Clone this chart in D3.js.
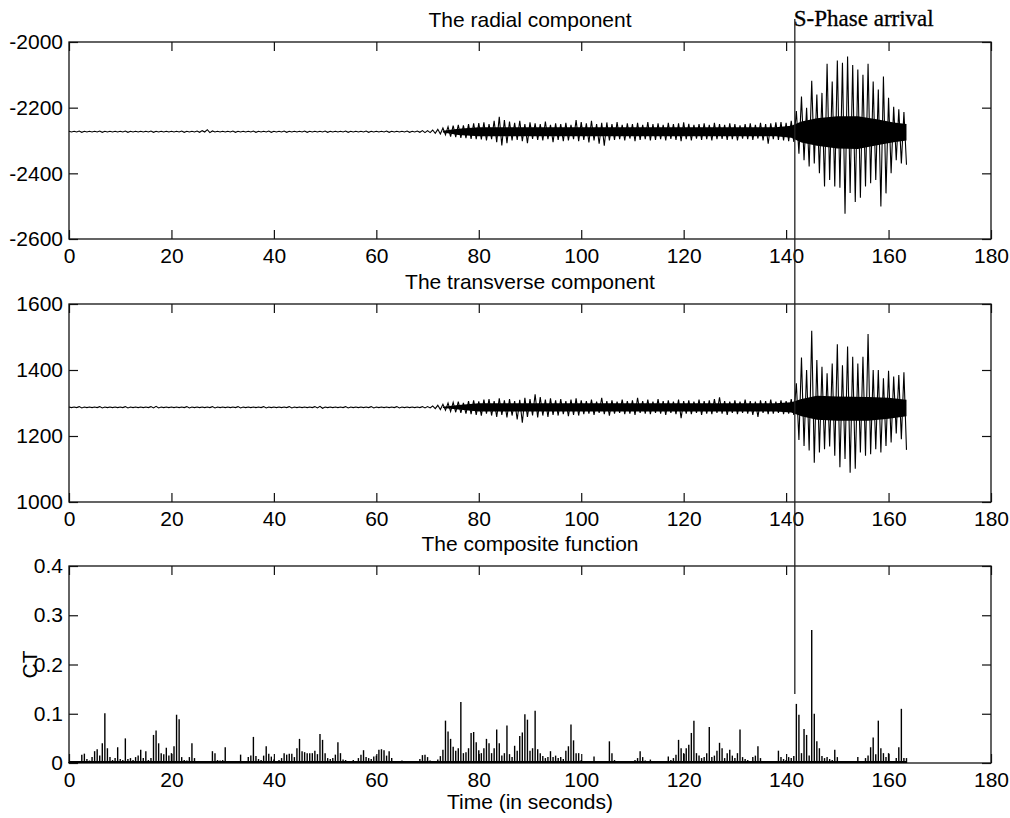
<!DOCTYPE html>
<html>
<head>
<meta charset="utf-8">
<script src="https://cdn.jsdelivr.net/npm/d3@7"></script>
<style>
  body { margin: 0; background: #fff; }
  svg { display: block; }
  .tick text { font-family: "Liberation Sans", Arial, sans-serif; font-size: 21px; fill: #000; }
</style>
</head>
<body>
<svg id="chart" width="1010" height="818"></svg>
<script>
// ---- Data -------------------------------------------------------------
// Time axis (seconds)
const xTicks = [0, 20, 40, 60, 80, 100, 120, 140, 160, 180];
const radialTicks = [-2600, -2400, -2200, -2000];
const transverseTicks = [1000, 1200, 1400, 1600];
const ctTicks = [0, 0.1, 0.2, 0.3, 0.4];

const panelTitles = ["The radial component", "The transverse component", "The composite function"];
const xLabel = "Time (in seconds)";
const ctLabel = "CT";
const arrivalLabel = "S-Phase arrival";
const arrivalTime = 141.7;     // s
const arrivalTopValue = -1930; // upper end, radial units
const arrivalCT = 0.14;        // lower end, CT units

// Radial component: per-second maximum / minimum (t = 0 … 163 s)
const radialHigh = [
  -2272,-2272,-2271,-2272,-2272,-2272,-2271,-2272,-2272,-2272,
  -2272,-2271,-2272,-2272,-2272,-2272,-2271,-2272,-2272,-2272,
  -2272,-2272,-2271,-2272,-2272,-2271,-2270,-2267,-2271,-2272,
  -2272,-2272,-2271,-2272,-2272,-2272,-2271,-2272,-2272,-2271,
  -2272,-2272,-2271,-2272,-2272,-2272,-2271,-2272,-2272,-2272,
  -2271,-2272,-2272,-2272,-2271,-2272,-2272,-2272,-2271,-2272,
  -2272,-2272,-2271,-2272,-2272,-2272,-2271,-2272,-2271,-2270,
  -2270,-2268,-2266,-2262,-2258,-2255,-2252,-2254,-2250,-2248,
  -2247,-2245,-2250,-2240,-2228,-2238,-2242,-2246,-2240,-2250,
  -2245,-2248,-2250,-2242,-2252,-2248,-2250,-2246,-2252,-2238,
  -2244,-2248,-2240,-2250,-2246,-2245,-2250,-2244,-2252,-2248,
  -2250,-2246,-2252,-2244,-2250,-2248,-2252,-2246,-2250,-2248,
  -2245,-2249,-2252,-2250,-2248,-2252,-2246,-2250,-2252,-2248,
  -2250,-2254,-2250,-2248,-2252,-2246,-2250,-2248,-2245,-2244,
  -2246,-2240,-2210,-2166,-2200,-2118,-2160,-2155,-2066,-2120,
  -2056,-2063,-2044,-2070,-2084,-2100,-2066,-2120,-2145,-2105,
  -2170,-2197,-2205,-2213
];
const radialLow = [
  -2274,-2274,-2275,-2274,-2274,-2274,-2275,-2274,-2274,-2274,
  -2274,-2275,-2274,-2274,-2274,-2274,-2275,-2274,-2274,-2274,
  -2274,-2274,-2275,-2274,-2274,-2275,-2274,-2276,-2274,-2274,
  -2274,-2274,-2275,-2274,-2274,-2274,-2275,-2274,-2274,-2275,
  -2274,-2274,-2275,-2274,-2274,-2274,-2275,-2274,-2274,-2274,
  -2275,-2274,-2274,-2274,-2275,-2274,-2274,-2274,-2275,-2274,
  -2274,-2274,-2275,-2274,-2274,-2274,-2275,-2274,-2275,-2276,
  -2276,-2278,-2280,-2283,-2288,-2290,-2292,-2293,-2295,-2296,
  -2297,-2300,-2296,-2305,-2315,-2308,-2300,-2298,-2302,-2308,
  -2295,-2298,-2300,-2296,-2305,-2298,-2302,-2300,-2296,-2302,
  -2298,-2306,-2300,-2310,-2316,-2300,-2298,-2296,-2300,-2294,
  -2302,-2298,-2296,-2300,-2298,-2296,-2300,-2295,-2298,-2302,
  -2296,-2300,-2294,-2298,-2296,-2300,-2296,-2295,-2298,-2296,
  -2300,-2294,-2296,-2298,-2294,-2300,-2310,-2296,-2298,-2300,
  -2302,-2304,-2340,-2360,-2379,-2370,-2400,-2440,-2420,-2440,
  -2444,-2523,-2460,-2487,-2474,-2440,-2430,-2420,-2501,-2461,
  -2400,-2360,-2370,-2374
];
// Radial: dense core of the oscillation [t, upper, lower]
const radialCore = [
  [73, -2270, -2276], [76, -2264, -2283], [80, -2260, -2287], [138, -2260, -2287],
  [141, -2255, -2292], [143, -2242, -2306], [146, -2232, -2316], [150, -2226, -2324],
  [154, -2226, -2326], [158, -2236, -2314], [161, -2245, -2305], [163.5, -2250, -2300]
];

// Transverse component: per-second maximum / minimum (t = 0 … 163 s)
const transverseHigh = [
  1288,1288,1289,1288,1288,1288,1289,1288,1288,1288,
  1288,1289,1288,1288,1288,1288,1289,1290,1288,1288,
  1288,1288,1288,1289,1288,1288,1288,1288,1289,1288,
  1288,1288,1288,1289,1288,1288,1288,1288,1289,1288,
  1288,1288,1288,1289,1288,1288,1288,1288,1289,1290,
  1288,1288,1288,1288,1289,1288,1288,1288,1288,1289,
  1288,1288,1288,1288,1289,1288,1288,1288,1288,1289,
  1289,1291,1293,1296,1300,1302,1304,1300,1306,1308,
  1305,1310,1312,1306,1314,1308,1312,1306,1310,1316,
  1312,1326,1318,1310,1314,1308,1312,1306,1310,1314,
  1308,1306,1310,1304,1316,1306,1308,1304,1310,1306,
  1308,1316,1306,1310,1304,1312,1306,1308,1304,1310,
  1306,1308,1304,1310,1306,1308,1312,1317,1306,1304,
  1308,1304,1310,1306,1304,1308,1306,1310,1304,1308,
  1306,1312,1360,1438,1400,1519,1430,1410,1390,1420,
  1478,1414,1471,1440,1420,1440,1509,1400,1400,1375,
  1398,1380,1385,1393
];
const transverseLow = [
  1286,1286,1285,1286,1286,1286,1285,1286,1286,1286,
  1286,1285,1286,1286,1286,1286,1285,1285,1286,1286,
  1286,1286,1286,1285,1286,1286,1286,1286,1285,1286,
  1286,1286,1286,1285,1286,1286,1286,1286,1285,1286,
  1286,1286,1286,1285,1286,1286,1286,1286,1285,1284,
  1286,1286,1286,1286,1285,1286,1286,1286,1286,1285,
  1286,1286,1286,1286,1285,1286,1286,1286,1286,1285,
  1285,1283,1280,1278,1274,1272,1270,1268,1266,1264,
  1262,1268,1262,1258,1264,1256,1262,1250,1240,1258,
  1262,1256,1262,1258,1264,1262,1266,1260,1264,1262,
  1266,1268,1264,1270,1266,1262,1268,1270,1266,1268,
  1264,1270,1268,1266,1270,1268,1264,1270,1266,1254,
  1268,1266,1270,1264,1268,1266,1270,1268,1264,1270,
  1266,1270,1268,1264,1258,1270,1266,1268,1270,1266,
  1268,1264,1188,1170,1156,1119,1150,1160,1168,1140,
  1105,1130,1089,1101,1150,1140,1145,1160,1150,1170,
  1180,1208,1190,1158
];
// Transverse: dense core of the oscillation [t, upper, lower]
const transverseCore = [
  [73, 1289, 1285], [76, 1294, 1280], [80, 1299, 1274], [138, 1299, 1274],
  [141, 1302, 1271], [143, 1312, 1260], [146, 1322, 1249], [150, 1320, 1246],
  [156, 1318, 1246], [160, 1316, 1252], [163.5, 1310, 1260]
];

// Composite function CT, sampled every 0.5 s (t = 0 … 163.5 s)
const compositeCT = [
  0.002,0.004,0.002,0.001,0.003,0.017,0.019,0.008,0.005,0.012,0.024,0.028,0.015,0.04,0.101,0.03,0.012,0.006,0.01,0.032,
  0.008,0.006,0.05,0.008,0.01,0.006,0.012,0.015,0.027,0.01,0.024,0.006,0.01,0.057,0.066,0.04,0.02,0.018,0.031,0.015,
  0.02,0.034,0.098,0.089,0.012,0.006,0.005,0.012,0.04,0.01,0.003,0.004,0.002,0.001,0.002,0.003,0.024,0.02,0.006,0.005,
  0.006,0.032,0.004,0.002,0.002,0.003,0.004,0.017,0.003,0.004,0.012,0.015,0.053,0.014,0.008,0.006,0.015,0.034,0.019,0.013,
  0.007,0.004,0.006,0.01,0.02,0.017,0.019,0.019,0.012,0.03,0.049,0.024,0.022,0.02,0.02,0.02,0.025,0.018,0.059,0.047,
  0.02,0.01,0.008,0.01,0.017,0.042,0.02,0.007,0.006,0.004,0.003,0.006,0.004,0.01,0.017,0.026,0.012,0.01,0.008,0.013,
  0.015,0.027,0.028,0.026,0.015,0.024,0.01,0.004,0.003,0.003,0.005,0.002,0.002,0.002,0.003,0.002,0.004,0.008,0.016,0.017,
  0.012,0.005,0.003,0.003,0.007,0.014,0.027,0.086,0.064,0.049,0.033,0.025,0.03,0.124,0.02,0.022,0.03,0.061,0.063,0.042,
  0.026,0.02,0.03,0.049,0.04,0.02,0.03,0.068,0.04,0.015,0.02,0.076,0.018,0.012,0.035,0.025,0.055,0.062,0.099,0.088,
  0.025,0.03,0.106,0.028,0.02,0.014,0.01,0.012,0.024,0.012,0.015,0.01,0.012,0.008,0.025,0.034,0.078,0.046,0.02,0.02,
  0.006,0.004,0.003,0.004,0.002,0.013,0.004,0.003,0.002,0.004,0.003,0.044,0.02,0.006,0.003,0.002,0.002,0.003,0.002,0.004,
  0.003,0.006,0.01,0.024,0.012,0.005,0.003,0.007,0.003,0.002,0.003,0.003,0.002,0.004,0.013,0.006,0.01,0.017,0.047,0.03,
  0.02,0.03,0.037,0.061,0.086,0.02,0.015,0.01,0.012,0.02,0.073,0.012,0.015,0.025,0.041,0.03,0.01,0.02,0.027,0.015,
  0.01,0.02,0.068,0.012,0.008,0.006,0.004,0.012,0.015,0.034,0.01,0.002,0.003,0.002,0.002,0.003,0.004,0.025,0.012,0.008,
  0.006,0.012,0.01,0.014,0.12,0.098,0.02,0.069,0.057,0.015,0.27,0.1,0.044,0.03,0.014,0.01,0.012,0.008,0.006,0.027,
  0.012,0.004,0.002,0.002,0.003,0.002,0.004,0.002,0.012,0.004,0.003,0.01,0.015,0.032,0.052,0.018,0.086,0.03,0.02,0.012,
  0.02,0.004,0.003,0.01,0.032,0.11,0.01,0.01
];
const ctStep = 0.5;

// ---- Layout -----------------------------------------------------------
const svg = d3.select("#chart");
const left = 69, right = 991;
const panelBoxes = [
  { top: 42, bottom: 239, domain: [-2600, -2000], ticks: radialTicks },
  { top: 304, bottom: 502, domain: [1000, 1600], ticks: transverseTicks },
  { top: 566, bottom: 763, domain: [0, 0.4], ticks: ctTicks }
];
const x = d3.scaleLinear().domain([0, 180]).range([left, right]);
const ys = panelBoxes.map(p => d3.scaleLinear().domain(p.domain).range([p.bottom, p.top]));
const sansFont = '"Liberation Sans", Arial, sans-serif';
const tickLen = 9;

function fmt(v) { return Math.abs(v) < 1e-9 ? "0" : String(+v.toFixed(1)); }

panelBoxes.forEach((p, k) => {
  const y = ys[k];
  const g = svg.append("g");

  // x axis (bottom, labelled) and top (ticks only); y axis left (labelled) and right
  const bottom = g.append("g").attr("transform", `translate(0,${p.bottom})`)
    .call(d3.axisBottom(x).tickValues(xTicks).tickSizeInner(-tickLen).tickSizeOuter(0).tickPadding(9).tickFormat(d3.format("d")));
  const top = g.append("g").attr("transform", `translate(0,${p.top})`)
    .call(d3.axisTop(x).tickValues(xTicks).tickSizeInner(-tickLen).tickSizeOuter(0).tickFormat(""));
  const lft = g.append("g").attr("transform", `translate(${left},0)`)
    .call(d3.axisLeft(y).tickValues(p.ticks).tickSizeInner(-tickLen).tickSizeOuter(0).tickPadding(6).tickFormat(fmt));
  const rgt = g.append("g").attr("transform", `translate(${right},0)`)
    .call(d3.axisRight(y).tickValues(p.ticks).tickSizeInner(-tickLen).tickSizeOuter(0).tickFormat(""));
  [bottom, top, lft, rgt].forEach(a => {
    a.select(".domain").remove();
    a.selectAll(".tick line").attr("stroke", "#111").attr("stroke-width", 1.2);
  });

  // frame
  g.append("rect")
    .attr("x", left).attr("y", p.top)
    .attr("width", right - left).attr("height", p.bottom - p.top)
    .attr("fill", "none").attr("stroke", "#111").attr("stroke-width", 1.3);

  // title
  svg.append("text")
    .attr("x", (left + right) / 2).attr("y", p.top - 15)
    .attr("text-anchor", "middle")
    .attr("font-family", sansFont).attr("font-size", 21)
    .text(panelTitles[k]);
});

// ---- Seismic traces ------------------------------------------------------
function tracePoints(high, low) {
  const pts = [];
  high.forEach((h, i) => { pts.push([i, h]); pts.push([i + 0.5, low[i]]); });
  return pts;
}
const traces = [
  { high: radialHigh, low: radialLow, core: radialCore },
  { high: transverseHigh, low: transverseLow, core: transverseCore }
];
traces.forEach((tr, k) => {
  const y = ys[k];
  // dense, overlapping oscillation near the baseline
  svg.append("path")
    .attr("d", d3.area().x(d => x(d[0])).y0(d => y(d[2])).y1(d => y(d[1]))(tr.core))
    .attr("fill", "#000");
  // peak-to-trough swings
  svg.append("path")
    .attr("d", d3.line().x(d => x(d[0])).y(d => y(d[1]))(tracePoints(tr.high, tr.low)))
    .attr("fill", "none").attr("stroke", "#000").attr("stroke-width", 1.1);
});

// ---- Composite function stems --------------------------------------------
const yc = ys[2];
svg.append("g").selectAll("line")
  .data(compositeCT)
  .join("line")
  .attr("x1", (d, i) => x(i * ctStep)).attr("x2", (d, i) => x(i * ctStep))
  .attr("y1", yc(0)).attr("y2", d => yc(d))
  .attr("stroke", "#000").attr("stroke-width", 1.4);
svg.append("line")
  .attr("x1", x(0)).attr("x2", x((compositeCT.length - 1) * ctStep))
  .attr("y1", yc(0) - 1).attr("y2", yc(0) - 1)
  .attr("stroke", "#000").attr("stroke-width", 2);

// ---- S-phase arrival marker ----------------------------------------------
const xa = x(arrivalTime);
svg.append("line")
  .attr("x1", xa).attr("x2", xa)
  .attr("y1", ys[0](arrivalTopValue)).attr("y2", yc(arrivalCT))
  .attr("stroke", "#222").attr("stroke-width", 1.3);
svg.append("text")
  .attr("x", xa - 1).attr("y", 26)
  .attr("font-family", '"Liberation Serif", "Times New Roman", serif')
  .attr("font-size", 23)
  .attr("stroke", "#000").attr("stroke-width", 0.3)
  .text(arrivalLabel);

// ---- Axis labels -----------------------------------------------------------
svg.append("text")
  .attr("x", (left + right) / 2).attr("y", 809)
  .attr("text-anchor", "middle")
  .attr("font-family", sansFont).attr("font-size", 21)
  .text(xLabel);
svg.append("text")
  .attr("transform", `translate(36.5,${(panelBoxes[2].top + panelBoxes[2].bottom) / 2}) rotate(-90)`)
  .attr("text-anchor", "middle")
  .attr("font-family", sansFont).attr("font-size", 21)
  .text(ctLabel);
</script>
</body>
</html>
